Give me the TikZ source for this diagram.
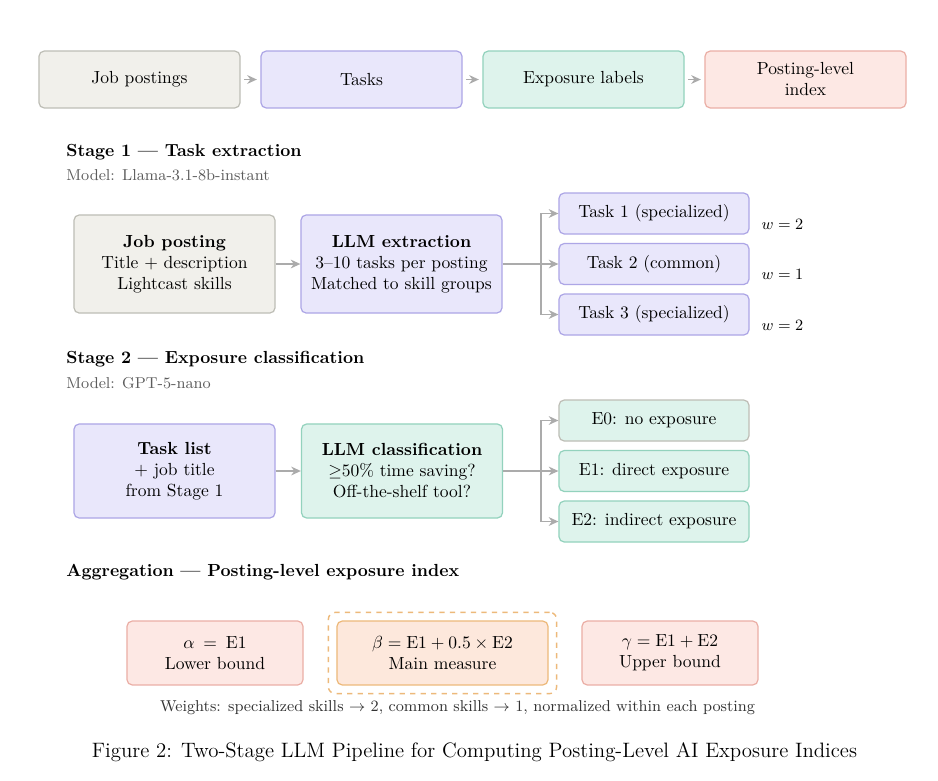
\documentclass[tikz,border=0pt]{standalone}
\usepackage{amsmath,amssymb}
\usetikzlibrary{positioning,fit,arrows.meta}
\definecolor{grayfill}{HTML}{F1F0EB}
\definecolor{graydraw}{HTML}{BEBEB6}
\definecolor{purplefill}{HTML}{E9E7FB}
\definecolor{purpledraw}{HTML}{ADA6E6}
\definecolor{greenfill}{HTML}{DEF3EC}
\definecolor{greendraw}{HTML}{93D2BD}
\definecolor{redfill}{HTML}{FDE8E4}
\definecolor{reddraw}{HTML}{EBAFA6}
\definecolor{orangefill}{HTML}{FDE8DC}
\definecolor{orangedraw}{HTML}{EDB97A}
\definecolor{arrowgray}{HTML}{ABABAB}
\definecolor{notegray}{HTML}{5C5C5C}
\definecolor{weightgray}{HTML}{333333}
\tikzset{
    box/.style={draw,rounded corners=3pt,line width=0.7pt,align=center,inner sep=2pt},
    graybox/.style={box,draw=graydraw,fill=grayfill},
    purplebox/.style={box,draw=purpledraw,fill=purplefill},
    greenbox/.style={box,draw=greendraw,fill=greenfill},
    redbox/.style={box,draw=reddraw,fill=redfill},
    orangebox/.style={box,draw=orangedraw,fill=orangefill},
    topbox/.style={minimum width=114.8pt,minimum height=32.5pt},
    stagebox/.style={minimum width=114.8pt,minimum height=56pt},
    taskbox/.style={minimum width=108.5pt,minimum height=23.4pt},
    aggbox/.style={minimum width=100.5pt,minimum height=36.5pt},
    heading/.style={anchor=west,inner sep=0pt,font=\bfseries},
    modelnote/.style={anchor=west,inner sep=0pt,font=\small,text=notegray},
    weight/.style={font=\small},
    flow/.style={-{Stealth[length=5.5pt,width=5pt]},draw=arrowgray,line width=0.9pt},
    fork/.style={draw=arrowgray,line width=0.9pt}
}
\begin{document}
\begin{tikzpicture}[x=0.571pt,y=-0.571pt]
\useasboundingbox[fill=white](0,0)rectangle(938,780);
% overview row
\node[graybox,topbox](postings)at(139.5,79.5){Job postings};
\node[purplebox,topbox](tasks)at(361.5,79.5){Tasks};
\node[greenbox,topbox](labels)at(583.5,79.5){Exposure labels};
\node[redbox,topbox](index)at(805.5,79.5){Posting-level\\index};
\draw[flow,shorten <=2pt,shorten >=2pt](postings)--(tasks);
\draw[flow,shorten <=2pt,shorten >=2pt](tasks)--(labels);
\draw[flow,shorten <=2pt,shorten >=2pt](labels)--(index);

% stage 1
\node[heading](s1head)at(66,152){Stage 1 --- Task extraction};
\node[modelnote](s1model)at(66,175){Model: Llama-3.1-8b-instant};
\node[graybox,stagebox](jobpost)at(174.5,264){\textbf{Job posting}\\Title + description\\Lightcast skills};
\node[purplebox,stagebox](extract)at(401.5,264){\textbf{LLM extraction}\\3--10 tasks per posting\\Matched to skill groups};
\node[purplebox,taskbox](task1)at(654,213.5){Task 1 (specialized)};
\node[purplebox,taskbox](task2)at(654,264){Task 2 (common)};
\node[purplebox,taskbox](task3)at(654,314.5){Task 3 (specialized)};
\node[weight,right=3.3pt of task1,yshift=-6pt](w1){$w=2$};
\node[weight,right=3.3pt of task2,yshift=-6pt](w2){$w=1$};
\node[weight,right=3.3pt of task3,yshift=-6pt](w3){$w=2$};
\coordinate(fork1)at(541,264);
\draw[flow](jobpost)--(extract);
\draw[fork](extract.east)--(fork1);
\draw[flow](fork1)|-(task1.west);
\draw[flow](fork1)--(task2.west);
\draw[flow](fork1)|-(task3.west);

% stage 2
\node[heading](s2head)at(66,359){Stage 2 --- Exposure classification};
\node[modelnote](s2model)at(66,383){Model: GPT-5-nano};
\node[purplebox,stagebox,minimum height=53.7pt](tasklist)at(174.5,471){\textbf{Task list}\\+ job title\\from Stage 1};
\node[greenbox,stagebox,minimum height=53.7pt](classify)at(402,471){\textbf{LLM classification}\\$\geq$50\% time saving?\\Off-the-shelf tool?};
\node[greenbox,taskbox,draw=graydraw](e0)at(654,420.5){E0: no exposure};
\node[greenbox,taskbox](e1)at(654,471){E1: direct exposure};
\node[greenbox,taskbox](e2)at(654,521.5){E2: indirect exposure};
\coordinate(fork2)at(541,471);
\draw[flow](tasklist)--(classify);
\draw[fork](classify.east)--(fork2);
\draw[flow](fork2)|-(e0.west);
\draw[flow](fork2)--(e1.west);
\draw[flow](fork2)|-(e2.west);

% aggregation
\node[heading](agghead)at(66,572){Aggregation --- Posting-level exposure index};
\node[redbox,aggbox](alpha)at(215,653){$\alpha$\enspace=\enspace E1\\Lower bound};
\node[orangebox,aggbox,minimum width=120.5pt](beta)at(442.5,653){$\beta=\text{E1}+0.5\times\text{E2}$\\Main measure};
\node[redbox,aggbox](gamma)at(670,653){$\gamma=\text{E1}+\text{E2}$\\Upper bound};
\node[draw=orangedraw,dashed,rounded corners=4pt,line width=0.8pt,inner sep=4.6pt,fit=(beta)](main){};
\node[weight,text=weightgray](weights)at(457.5,708){Weights: specialized skills $\rightarrow$ 2, common skills $\rightarrow$ 1, normalized within each posting};

\node[font=\fontsize{11.9}{14}\selectfont](caption)at(474.5,752){Figure 2: Two-Stage LLM Pipeline for Computing Posting-Level AI Exposure Indices};
\end{tikzpicture}
\end{document}
